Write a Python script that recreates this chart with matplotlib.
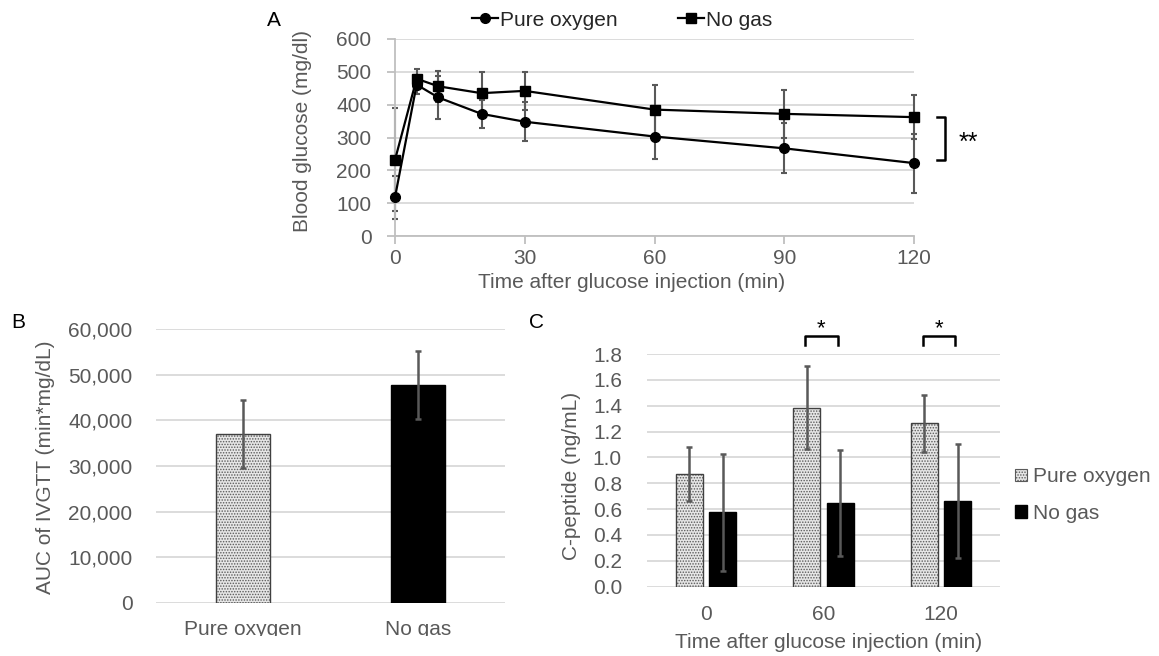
import matplotlib
matplotlib.use("Agg")
import matplotlib.pyplot as plt
from matplotlib.patches import Patch, Rectangle
from matplotlib.ticker import FuncFormatter

plt.rcParams['font.family'] = ['Liberation Sans', 'DejaVu Sans']
plt.rcParams['hatch.linewidth'] = 0.7

# ---------------- data ----------------
time_min = [0, 5, 10, 20, 30, 60, 90, 120]
glucose_pure = [118, 461, 422, 372, 348, 303, 267, 222]
glucose_pure_err = [66, 30, 65, 42, 60, 69, 76, 90]
glucose_nogas = [232, 479, 456, 435, 442, 385, 372, 362]
glucose_nogas_err = [157, 30, 47, 63, 59, 74, 73, 66]

auc_groups = ['Pure oxygen', 'No gas']
auc_values = [37000, 47700]
auc_err = [7500, 7500]

cpep_times = ['0', '60', '120']
cpep_pure = [0.87, 1.385, 1.265]
cpep_pure_err = [0.21, 0.32, 0.22]
cpep_nogas = [0.575, 0.645, 0.665]
cpep_nogas_err = [0.45, 0.41, 0.44]
cpep_sig = ['', '*', '*']

TXT = '#595959'
GRID = '#d9d9d9'
AXC = '#bfbfbf'
ERR = '#595959'
HFACE = '#e6e6e6'
HDOT = '#5a5a5a'
FS = 15

W, H = 1159, 656
fig = plt.figure(figsize=(W / 100, H / 100), dpi=100)


def fx(px):
    return px / W


def fy(py):
    return 1 - py / H


# ---------------- Panel A ----------------
axA = fig.add_axes([fx(395), fy(236), fx(914) - fx(395), fy(39) - fy(236)])
axA.errorbar(time_min, glucose_nogas, yerr=glucose_nogas_err, fmt='none', ecolor=ERR,
             elinewidth=1.5, capsize=2.5, capthick=1.5, clip_on=False, zorder=2)
axA.errorbar(time_min, glucose_pure, yerr=glucose_pure_err, fmt='none', ecolor=ERR,
             elinewidth=1.5, capsize=2.5, capthick=1.5, clip_on=False, zorder=2)
l1, = axA.plot(time_min, glucose_pure, '-o', color='black', lw=1.6, ms=7, clip_on=False, zorder=3)
l2, = axA.plot(time_min, glucose_nogas, '-s', color='black', lw=1.6, ms=7, clip_on=False, zorder=3)
axA.set_xlim(0, 120)
axA.set_ylim(0, 600)
axA.set_xticks([0, 30, 60, 90, 120])
axA.set_yticks(range(0, 601, 100))
axA.yaxis.grid(True, color=GRID, lw=1.3)
axA.set_axisbelow(True)
for s in ['top', 'right']:
    axA.spines[s].set_visible(False)
for s in ['left', 'bottom']:
    axA.spines[s].set_color(AXC)
    axA.spines[s].set_linewidth(1.3)
axA.tick_params(axis='y', direction='out', length=6, color=AXC, width=1.3,
                labelsize=FS, labelcolor=TXT, pad=11)
axA.tick_params(axis='x', direction='out', length=6, color=AXC, width=1.3,
                labelsize=FS, labelcolor=TXT, pad=3)
axA.set_ylabel('Blood glucose (mg/dl)', fontsize=FS, color=TXT, va='center')
axA.yaxis.set_label_coords(-0.179, 0.533)
axA.set_xlabel('Time after glucose injection (min)', fontsize=FS, color=TXT, va='center')
axA.xaxis.set_label_coords(0.455, -0.234)

# significance bracket (A)
bx0, bx1 = 125.3, 127.2
ytop, ybot = glucose_nogas[-1], glucose_pure[-1] + 9
axA.plot([bx0, bx1, bx1, bx0], [ytop, ytop, ybot, ybot], color='black', lw=1.8,
         clip_on=False)
axA.text(132.5, (ytop + ybot) / 2 - 12, '**', fontsize=18, ha='center', va='center',
         color='black', clip_on=False)

fig.legend(handles=[l1, l2], labels=['Pure oxygen', 'No gas'], loc='center',
           bbox_to_anchor=(fx(622), fy(20)), ncol=2, frameon=False, fontsize=FS,
           handlelength=1.25, handletextpad=0.1, columnspacing=2.9, numpoints=1,
           labelcolor='#262626')

fig.text(fx(274), fy(20), 'A', fontsize=FS, ha='center', va='center', color='black')

# ---------------- Panel B ----------------
axB = fig.add_axes([fx(156), fy(603), fx(505) - fx(156), fy(329) - fy(603)])
xb = [0, 1]
bw = 0.31
axB.bar(xb[0], auc_values[0], width=bw, color=HFACE, edgecolor=HDOT,
        hatch='......', lw=0, zorder=2)
axB.bar(xb[0], auc_values[0], width=bw, fill=False, edgecolor='#404040', lw=1.0, zorder=3)
axB.bar(xb[1], auc_values[1], width=bw, color='black', edgecolor='black', lw=1.0, zorder=2)
axB.errorbar(xb, auc_values, yerr=auc_err, fmt='none', ecolor=ERR, elinewidth=1.8,
             capsize=2.5, capthick=1.8, zorder=4)
axB.set_xlim(-0.5, 1.5)
axB.set_ylim(0, 60000)
axB.set_yticks(range(0, 60001, 10000))
axB.yaxis.set_major_formatter(FuncFormatter(lambda v, p: f'{int(v):,}'))
axB.set_xticks(xb)
axB.set_xticklabels(auc_groups)
axB.yaxis.grid(True, color=GRID, lw=1.3)
axB.set_axisbelow(True)
for s in axB.spines.values():
    s.set_visible(False)
axB.tick_params(axis='both', length=0, labelsize=FS, labelcolor=TXT)
axB.tick_params(axis='y', pad=17)
axB.tick_params(axis='x', pad=12)
axB.set_ylabel('AUC of IVGTT (min*mg/dL)', fontsize=FS, color=TXT, va='center')
axB.yaxis.set_label_coords(-0.318, 0.494)
fig.text(fx(18), fy(322), 'B', fontsize=FS, ha='center', va='center', color='black')

# ---------------- Panel C ----------------
axC = fig.add_axes([fx(647), fy(586.7), fx(1000) - fx(647), fy(354) - fy(586.7)])
xc = list(range(len(cpep_times)))
cw = 0.23
off = 0.142
xp = [x - off for x in xc]
xn = [x + off for x in xc]
axC.bar(xp, cpep_pure, width=cw, color=HFACE, edgecolor=HDOT, hatch='......',
        lw=0, zorder=2)
axC.bar(xp, cpep_pure, width=cw, fill=False, edgecolor='#404040', lw=1.0, zorder=3)
axC.bar(xn, cpep_nogas, width=cw, color='black', edgecolor='black', lw=1.0, zorder=2)
axC.errorbar(xp, cpep_pure, yerr=cpep_pure_err, fmt='none', ecolor=ERR, elinewidth=1.8,
             capsize=2.5, capthick=1.8, zorder=4)
axC.errorbar(xn, cpep_nogas, yerr=cpep_nogas_err, fmt='none', ecolor=ERR, elinewidth=1.8,
             capsize=2.5, capthick=1.8, zorder=4)
axC.set_xlim(-0.5, 2.5)
axC.set_ylim(0, 1.8)
axC.set_yticks([i * 0.2 for i in range(10)])
axC.yaxis.set_major_formatter(FuncFormatter(lambda v, p: f'{v:.1f}'))
axC.set_xticks(xc)
axC.set_xticklabels(cpep_times)
axC.yaxis.grid(True, color=GRID, lw=1.3)
axC.set_axisbelow(True)
for s in axC.spines.values():
    s.set_visible(False)
axC.tick_params(axis='both', length=0, labelsize=FS, labelcolor=TXT)
axC.tick_params(axis='y', pad=18)
axC.tick_params(axis='x', pad=13)
axC.set_ylabel('C-peptide (ng/mL)', fontsize=FS, color=TXT, va='center')
axC.yaxis.set_label_coords(-0.215, 0.474)
axC.set_xlabel('Time after glucose injection (min)', fontsize=FS, color=TXT, va='center')
axC.xaxis.set_label_coords(0.513, -0.24)

for x, s in zip(xc, cpep_sig):
    if s:
        axC.plot([x - 0.153, x - 0.153, x + 0.119, x + 0.119], [1.87, 1.94, 1.94, 1.87],
                 color='black', lw=1.8, clip_on=False)
        axC.text(x - 0.017, 1.995, s, fontsize=16, ha='center', va='center', color='black',
                 clip_on=False)

hp = Patch(facecolor=HFACE, edgecolor=HDOT, hatch='......', lw=0.8)
hn = Patch(facecolor='black', edgecolor='black')
fig.legend(handles=[hp, hn], labels=['Pure oxygen', 'No gas'], loc='center left',
           bbox_to_anchor=(fx(1005), fy(495)), frameon=False, fontsize=FS,
           handlelength=0.55, handleheight=0.55, handletextpad=0.3, labelspacing=0.85,
           borderpad=0, labelcolor=TXT)
fig.text(fx(537), fy(322), 'C', fontsize=FS, ha='center', va='center', color='black')

# bottom crop of panel B labels as in the source figure
fig.add_artist(Rectangle((0, 0), fx(540), fy(636), transform=fig.transFigure,
                         facecolor='white', edgecolor='none', zorder=20))

fig.savefig('out.png', dpi=100)
